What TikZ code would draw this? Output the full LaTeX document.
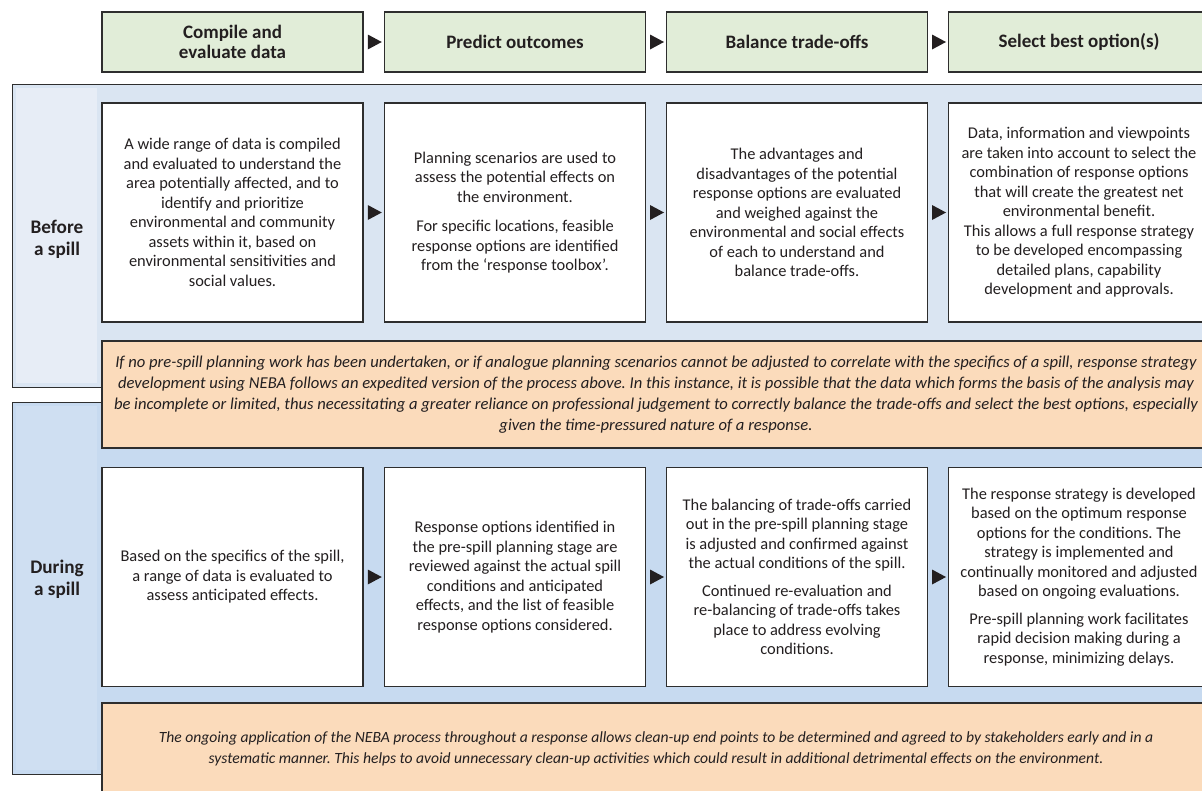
\documentclass[tikz,border=0pt]{standalone}
\usepackage{fontspec}
\setmainfont{Carlito}
\frenchspacing
\definecolor{hdr}{HTML}{E1EDD8}
\definecolor{bord}{HTML}{2E2E2E}
\definecolor{pan1}{HTML}{DAE5F2}
\definecolor{strip1}{HTML}{E7EDF6}
\definecolor{pan2}{HTML}{C7DAF0}
\definecolor{strip2}{HTML}{CFDFF2}
\definecolor{orng}{HTML}{FBDBBB}
\definecolor{txt}{HTML}{231F20}
\newcommand\flowarrow[2]{%
  \path (#1.east) -- coordinate[pos=0.5] (#1#2m) (#2.west);
  \fill[txt] (#1#2m) ++(-6,-7.5) -- ++(14,7.5) -- ++(-14,7.5) -- cycle;}
\begin{document}
\frenchspacing
\begin{tikzpicture}[x=1pt,y=-1pt,
  every node/.style={text=txt},
  hbox/.style={draw=bord,fill=hdr,line width=1.2pt,minimum width=261,minimum height=60,align=center,inner sep=0,font=\fontsize{19}{20}\selectfont\bfseries},
  wbox/.style={draw=bord,fill=white,line width=1.2pt,minimum width=261,minimum height=219,align=center,inner sep=0,font=\fontsize{16.4}{19.5}\selectfont},
  obox/.style={draw=bord,fill=orng,line width=1.2pt,align=center,inner sep=0,font=\fontsize{16.6}{21}\selectfont\itshape},
  panel/.style={draw=bord,line width=1.2pt,anchor=north west,inner sep=0},
  lbl/.style={align=center,font=\fontsize{19.2}{22}\selectfont\bfseries}]
\useasboundingbox (0,0) rectangle (1202,790);
\clip (0,0) rectangle (1202,790);
\fill[white] (0,0) rectangle (1202,790);

% header
\node[hbox] (h1) at (232.5,42) {Compile and\\evaluate data};
\node[hbox] (h2) at (515,42) {Predict outcomes};
\node[hbox] (h3) at (797,42) {Balance trade-offs};
\node[hbox] (h4) at (1079,42) {Select best option(s)};
\flowarrow{h1}{h2}
\flowarrow{h2}{h3}
\flowarrow{h3}{h4}

% panels
\node[panel,fill=pan1,minimum width=1203,minimum height=303] (before) at (12,84) {};
\fill[strip1] (16,88) rectangle (97,383);
\node[panel,fill=pan2,minimum width=1203,minimum height=372] (during) at (12,402) {};
\fill[strip2] (16,406) rectangle (97,770);

\node[lbl] (lb) at (57,239) {Before\\a spill};
\node[lbl] (ld) at (57,579) {During\\a spill};

% before row
\node[wbox] (b1) at (232.5,212.5) {A wide range of data is compiled\\and evaluated to understand the\\area potentially affected, and to\\identify and prioritize\\environmental and community\\assets within it, based on\\environmental sensitivities and\\social values.};
\node[wbox] (b2) at (515,212.5) {Planning scenarios are used to\\assess the potential effects on\\the environment.\\[10pt]For specific locations, feasible\\response options are identified\\from the ‘response toolbox’.};
\node[wbox] (b3) at (797,212.5) {The advantages and\\disadvantages of the potential\\response options are evaluated\\and weighed against the\\environmental and social effects\\of each to understand and\\balance trade-offs.};
\node[wbox] (b4) at (1079,212.5) {Data, information and viewpoints\\are taken into account to select the\\combination of response options\\that will create the greatest net\\environmental benefit.\\This allows a full response strategy\\to be developed encompassing\\detailed plans, capability\\development and approvals.};
\flowarrow{b1}{b2}
\flowarrow{b2}{b3}
\flowarrow{b3}{b4}

% orange 1
\node[obox,minimum width=1108,minimum height=107] (o1) at (656,394.5) {If no pre-spill planning work has been undertaken, or if analogue planning scenarios cannot be adjusted to correlate with the specifics of a spill, response strategy\\development using NEBA follows an expedited version of the process above. In this instance, it is possible that the data which forms the basis of the analysis may\\be incomplete or limited, thus necessitating a greater reliance on professional judgement to correctly balance the trade-offs and select the best options, especially\\given the time-pressured nature of a response.};

% during row
\node[wbox] (d1) at (232.5,577) {Based on the specifics of the spill,\\a range of data is evaluated to\\assess anticipated effects.};
\node[wbox] (d2) at (515,577) {Response options identified in\\the pre-spill planning stage are\\reviewed against the actual spill\\conditions and anticipated\\effects, and the list of feasible\\response options considered.};
\node[wbox] (d3) at (797,577) {The balancing of trade-offs carried\\out in the pre-spill planning stage\\is adjusted and confirmed against\\the actual conditions of the spill.\\[8pt]Continued re-evaluation and\\re-balancing of trade-offs takes\\place to address evolving\\conditions.};
\node[wbox] (d4) at (1079,577) {The response strategy is developed\\based on the optimum response\\options for the conditions. The\\strategy is implemented and\\continually monitored and adjusted\\based on ongoing evaluations.\\[8pt]Pre-spill planning work facilitates\\rapid decision making during a\\response, minimizing delays.};
\flowarrow{d1}{d2}
\flowarrow{d2}{d3}
\flowarrow{d3}{d4}

% orange 2
\node[obox,minimum width=1108,minimum height=92,font=\fontsize{15.6}{21}\selectfont\itshape] (o2) at (656,749) {The ongoing application of the NEBA process throughout a response allows clean-up end points to be determined and agreed to by stakeholders early and in a\\systematic manner. This helps to avoid unnecessary clean-up activities which could result in additional detrimental effects on the environment.};
\end{tikzpicture}
\end{document}
